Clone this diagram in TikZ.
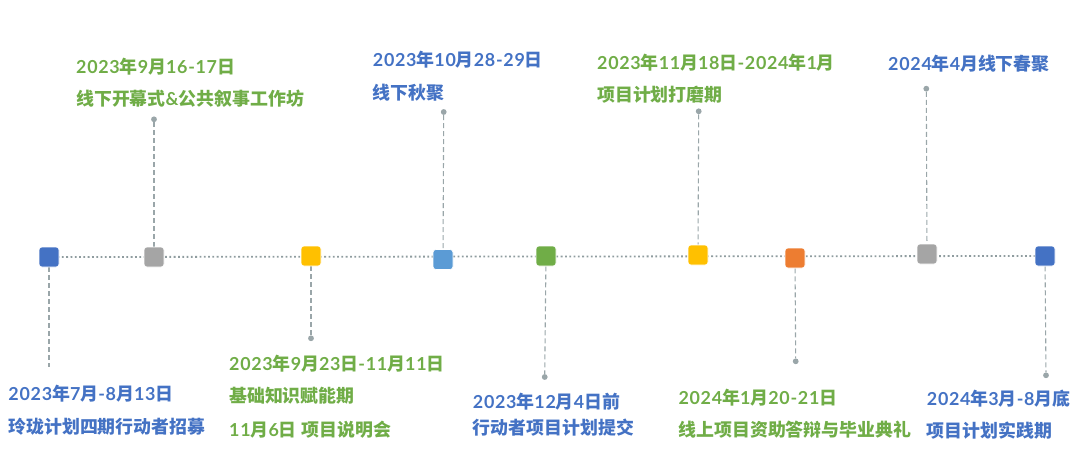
\documentclass[tikz,border=0pt]{standalone}
\usepackage{fontspec}
\newfontfamily\cjk{Noto Sans CJK SC}
\newfontfamily\latf{Lato}[LetterSpace=4]
\newcommand\Lat[1]{{\latf\bfseries #1}}
\definecolor{tblue}{HTML}{4472C4}
\definecolor{tgreen}{HTML}{70AD47}
\definecolor{cgray}{HTML}{A5A5A5}
\definecolor{cyellow}{HTML}{FFC000}
\definecolor{clblue}{HTML}{5B9BD5}
\definecolor{corange}{HTML}{ED7D31}
\definecolor{lgray}{HTML}{9AA6A9}
\definecolor{agray}{HTML}{8F9C9F}
\pgfdeclarelayer{bg}
\pgfsetlayers{bg,main}
\tikzset{
  sq/.style={minimum size=20pt, inner sep=0, rounded corners=3pt, draw=white, line width=0.6pt, fill=#1},
  dotm/.style={circle, fill=lgray, minimum size=5.8pt, inner sep=0},
  stem/.style={draw=lgray, line width=1.1pt, dash pattern=on 5pt off 3pt},
  axis/.style={draw=agray, line width=1.8pt, dash pattern=on 1.8pt off 2.5pt},
  txt/.style={anchor=base west, inner sep=0, text=#1, font=\cjk\bfseries\fontsize{17.9}{20}\selectfont},
}
\begin{document}
\begin{tikzpicture}[x=1pt, y=-1pt]
\useasboundingbox (0,0) rectangle (1080,476);
% squares
\node[sq=tblue]   (s1) at (49,257) {};
\node[sq=cgray]   (s2) at (154,257) {};
\node[sq=cyellow] (s3) at (311,256) {};
\node[sq=clblue]  (s4) at (443,259.5) {};
\node[sq=tgreen]  (s5) at (546,256) {};
\node[sq=cyellow] (s6) at (698,255) {};
\node[sq=corange] (s7) at (795,258) {};
\node[sq=cgray]   (s8) at (927,254) {};
\node[sq=tblue]   (s9) at (1045,256) {};
% end dots
\node[dotm] (d2) at (154,119.3) {};
\node[dotm] (d4) at (443.7,112) {};
\node[dotm] (d6) at (698.7,111.3) {};
\node[dotm] (d8) at (926.3,88.7) {};
\coordinate (e1) at (49,366.7);
\node[dotm] (d3) at (311,338.3) {};
\node[dotm] (d5) at (544.7,377) {};
\node[dotm] (d7) at (795.7,361.3) {};
\node[dotm] (d9) at (1046,375.3) {};
\begin{pgfonlayer}{bg}
\draw[axis] (s1.center) -- (s9.center);
\draw[stem] (d2) -- (s2);
\draw[stem] (d4) -- (s4);
\draw[stem] (d6) -- (s6);
\draw[stem] (d8) -- (s8);
\draw[stem] (s1) -- (e1);
\draw[stem] (s3) -- (d3);
\draw[stem] (s5) -- (d5);
\draw[stem] (s7) -- (d7);
\draw[stem] (s9) -- (d9);
\end{pgfonlayer}
% top labels
\node[txt=tgreen] (t1a) at (76,73.4) {\Lat{2023}年\Lat{9}月\Lat{16-17}日};
\node[txt=tgreen] (t1b) at (76,106) {线下开幕式\Lat{\&}公共叙事工作坊};
\node[txt=tblue] (t2a) at (372.7,66.7) {\Lat{2023}年\Lat{10}月\Lat{28-29}日};
\node[txt=tblue] (t2b) at (372.7,99.4) {线下秋聚};
\node[txt=tgreen] (t3a) at (597,69.4) {\Lat{2023}年\Lat{11}月\Lat{18}日\Lat{-2024}年\Lat{1}月};
\node[txt=tgreen] (t3b) at (597,101.7) {项目计划打磨期};
\node[txt=tblue] (t4a) at (888,70.7) {\Lat{2024}年\Lat{4}月线下春聚};
% bottom labels
\node[txt=tblue] (b1a) at (8.3,400) {\Lat{2023}年\Lat{7}月\Lat{-8}月\Lat{13}日};
\node[txt=tblue] (b1b) at (8.3,433.9) {玲珑计划四期行动者招募};
\node[txt=tgreen] (b2a) at (229,370) {\Lat{2023}年\Lat{9}月\Lat{23}日\Lat{-11}月\Lat{11}日};
\node[txt=tgreen] (b2b) at (229,402.9) {基础知识赋能期};
\node[txt=tgreen] (b2c) at (229,436.2) {\Lat{11}月\Lat{6}日\Lat{ }项目说明会};
\node[txt=tblue] (b3a) at (472.7,408.4) {\Lat{2023}年\Lat{12}月\Lat{4}日前};
\node[txt=tblue] (b3b) at (472.7,434.7) {行动者项目计划提交};
\node[txt=tgreen] (b4a) at (678.3,404.7) {\Lat{2024}年\Lat{1}月\Lat{20-21}日};
\node[txt=tgreen] (b4b) at (678.3,436.2) {线上项目资助答辩与毕业典礼};
\node[txt=tblue] (b5a) at (926.7,405) {\Lat{2024}年\Lat{3}月\Lat{-8}月底};
\node[txt=tblue] (b5b) at (926.7,437.7) {项目计划实践期};
\end{tikzpicture}
\end{document}
